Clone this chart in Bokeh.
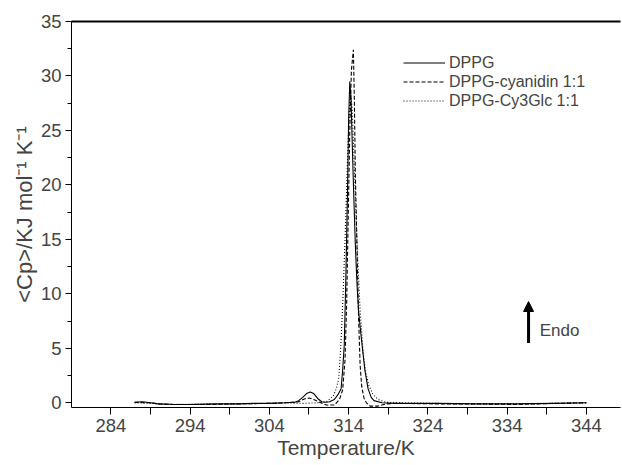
from bokeh.plotting import figure
from bokeh.models import (Range1d, FixedTicker, LinearAxis, Legend, LegendItem,
                          Arrow, NormalHead, Label)
from bokeh.embed import file_html
from bokeh.resources import INLINE

# ---- data ----
dppg_T = [287.0, 288.0, 289.0, 290.0, 292.0, 294.0, 296.0, 298.0, 300.0, 302.0, 304.0,
          306.0, 307.2, 307.7, 308.2, 308.7, 309.15, 309.6, 310.1, 310.6, 311.1, 311.6,
          312.2, 312.7, 313.05, 313.25, 313.45, 313.65, 313.85, 314.0, 314.15, 314.3, 314.45,
          314.65, 314.85, 315.05, 315.25, 315.45, 315.7, 316.05, 316.45, 316.85, 317.2, 318.2,
          320.0, 325.0, 330.0, 335.0, 340.0, 344.0]
dppg_Cp = [0.05, 0.1, 0.0, -0.1, -0.15, -0.15, -0.12, -0.1, -0.1, -0.05, -0.05,
           0.0, 0.05, 0.2, 0.5, 0.85, 1.0, 0.85, 0.4, 0.1, 0.05, 0.1,
           0.3, 0.8, 1.3, 3.0, 5.3, 11.4, 19.0, 26.0, 29.5, 28.0, 24.0,
           19.0, 14.5, 11.0, 8.5, 7.0, 5.3, 3.0, 1.3, 0.5, 0.2, 0.0,
           -0.05, -0.05, -0.1, -0.1, -0.05, 0.0]

cyan_T = [287.0, 289.0, 290.0, 292.0, 296.0, 300.0, 304.0, 306.0, 307.7, 308.4, 309.0,
          309.6, 310.2, 311.2, 312.2, 312.85, 313.25, 313.55, 313.75, 313.95, 314.15, 314.35,
          314.6, 314.72, 314.85, 315.05, 315.25, 315.45, 315.65, 315.95, 316.25, 316.7, 317.7,
          318.7, 320.0, 325.0, 330.0, 335.0, 340.0, 344.0]
cyan_Cp = [0.05, 0.0, -0.1, -0.15, -0.15, -0.1, -0.05, 0.0, 0.1, 0.35, 0.45,
           0.3, 0.1, -0.2, -0.2, 0.3, 1.2, 4.0, 9.0, 17.0, 25.0, 30.5,
           32.4, 28.0, 21.0, 14.5, 8.0, 3.5, 1.5, 0.4, 0.0, -0.3, -0.3,
           -0.1, -0.05, -0.1, -0.1, -0.15, -0.05, 0.0]

glc_T = [287.0, 289.0, 290.0, 292.0, 296.0, 300.0, 304.0, 306.0, 308.2, 310.2, 311.2,
         312.05, 312.45, 312.75, 313.02, 313.25, 313.55, 313.85, 314.1, 314.25, 314.45, 314.65,
         314.85, 315.1, 315.45, 315.85, 316.15, 316.55, 317.05, 317.75, 318.7, 320.0, 325.0,
         330.0, 335.0, 340.0, 344.0]
glc_Cp = [0.0, -0.05, -0.1, -0.15, -0.1, -0.1, -0.05, 0.0, -0.05, 0.0, 0.1,
          0.6, 1.3, 2.2, 5.3, 9.0, 15.0, 22.0, 27.0, 28.3, 27.0, 23.0,
          19.0, 14.0, 8.5, 4.5, 2.8, 1.6, 0.8, 0.3, 0.05, 0.0, -0.05,
          -0.1, -0.1, -0.05, 0.0]

series_names = ["DPPG", "DPPG-cyanidin 1:1", "DPPG-Cy3Glc 1:1"]
x_ticks = [279, 284, 289, 294, 299, 304, 309, 314, 319, 324, 329, 334, 339, 344]
x_labels = [284, 294, 304, 314, 324, 334, 344]
y_ticks = [0, 5, 10, 15, 20, 25, 30, 35]
y_minor = [2.5, 7.5, 12.5, 17.5, 22.5, 27.5, 32.5]
y_title = "<Cp>/KJ mol\u207b\u00b9 K\u207b\u00b9"
x_title = "Temperature/K"

FONT = "Liberation Sans"

p = figure(width=622, height=465, output_backend="svg", toolbar_location=None,
           x_range=Range1d(279.04, 348.3), y_range=Range1d(-0.43, 35),
           min_border_left=71, min_border_right=2, min_border_top=0, min_border_bottom=58)
p.outline_line_color = None
p.grid.visible = False
p.background_fill_color = "white"

lw = 1.1
r1 = p.line(dppg_T, dppg_Cp, line_color="black", line_width=lw)
r2 = p.line(cyan_T, cyan_Cp, line_color="black", line_width=lw, line_dash="4 2")
r3 = p.line(glc_T, glc_Cp, line_color="black", line_width=lw, line_dash="1 2")

# x axis
xa = p.xaxis[0]
xa.ticker = FixedTicker(ticks=x_ticks)
xa.major_label_overrides = {t: (str(t) if t in x_labels else "") for t in x_ticks}
xa.axis_label = x_title
xa.axis_label_text_font = FONT
xa.axis_label_text_font_size = "21px"
xa.axis_label_text_font_style = "normal"
xa.axis_label_standoff = 1
xa.major_label_text_font = FONT
xa.major_label_text_font_size = "18.5px"
xa.major_label_standoff = 4
xa.major_tick_out = 7
xa.major_tick_in = 0
xa.minor_tick_line_color = None
xa.axis_line_width = 1

# y axis
ya = p.yaxis[0]
ya.ticker = FixedTicker(ticks=y_ticks, minor_ticks=y_minor)
ya.axis_label = y_title
ya.axis_label_text_font = FONT
ya.axis_label_text_font_size = "22px"
ya.axis_label_text_font_style = "normal"
ya.axis_label_standoff = 1
ya.major_label_text_font = FONT
ya.major_label_text_font_size = "18.5px"
ya.major_label_standoff = 4
ya.major_tick_out = 6
ya.major_tick_in = 0
ya.minor_tick_out = 4
ya.minor_tick_in = 0
ya.axis_line_width = 1

# top border line
top = LinearAxis(ticker=FixedTicker(ticks=[]), axis_line_width=2,
                 major_label_text_font_size="0px", major_tick_line_color=None,
                 minor_tick_line_color=None)
p.add_layout(top, "above")
p.min_border_top = 21

# legend
legend = Legend(items=[LegendItem(label=series_names[0], renderers=[r1]),
                       LegendItem(label=series_names[1], renderers=[r2]),
                       LegendItem(label=series_names[2], renderers=[r3])],
                location=(332, 297), padding=0, margin=0, spacing=0,
                border_line_color=None, background_fill_alpha=0,
                label_text_font=FONT, label_text_font_size="16px",
                glyph_width=42, glyph_height=19, label_height=19, label_standoff=4)
p.add_layout(legend)

# Endo arrow
p.add_layout(Arrow(x_start=336.7, y_start=5.5, x_end=336.7, y_end=9.3,
                   line_width=3, line_color="black",
                   end=NormalHead(size=10, fill_color="black", line_color="black")))
p.add_layout(Label(x=338.1, y=6.6, text="Endo", text_font=FONT, text_font_size="17px",
                   text_baseline="middle"))

open("out.html", "w").write(file_html(p, INLINE))
